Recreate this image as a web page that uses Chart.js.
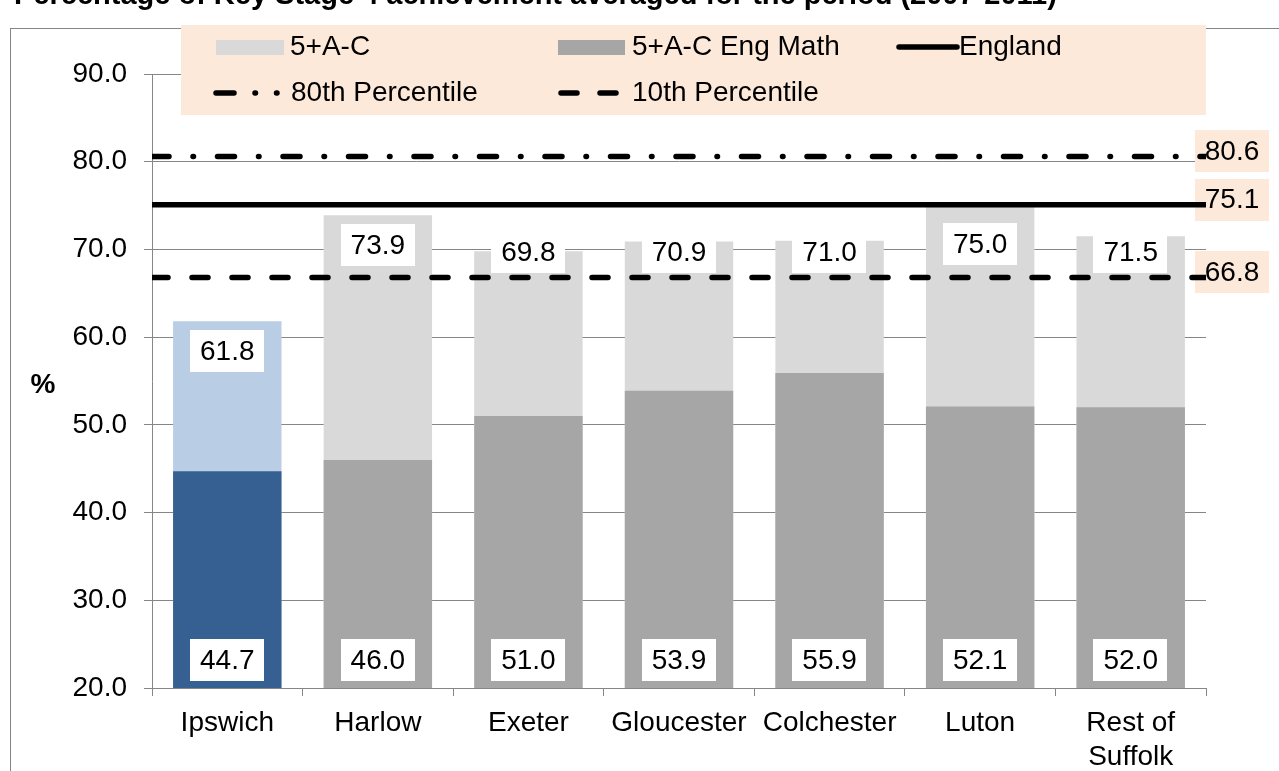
<!DOCTYPE html>
<html>
<head>
<meta charset="utf-8">
<title>Key Stage 4 achievement 2007-2011</title>
<script src="https://cdn.jsdelivr.net/npm/chart.js@4/dist/chart.umd.min.js"></script>
<style>
  html, body { margin: 0; padding: 0; background: #ffffff; overflow: hidden; }
  #wrap { position: relative; width: 1279px; height: 771px; }
</style>
</head>
<body>
<div id="wrap"><canvas id="chart" width="1279" height="771"></canvas></div>
<script>
// Areas compared
const categories = ['Ipswich', 'Harlow', 'Exeter', 'Gloucester', 'Colchester', 'Luton', ['Rest of', 'Suffolk']];
// 5+ GCSEs A*-C (%)
const fivePlusAC = [61.8, 73.9, 69.8, 70.9, 71.0, 75.0, 71.5];
// 5+ GCSEs A*-C including English and Maths (%)
const fivePlusACEngMath = [44.7, 46.0, 51.0, 53.9, 55.9, 52.1, 52.0];
// Reference levels (%)
const englandLevel = 75.1;
const percentile80 = 80.6;
const percentile10 = 66.8;
// Value axis
const yMin = 20, yMax = 90, yStep = 10;

const FONT = "'Liberation Sans', Arial, Helvetica, sans-serif";
const PEACH = '#FDE9D9';
const GRID = '#868686';
const focusArea = 'Ipswich';
const isFocus = categories.map(c => c === focusArea);
const lightColors = isFocus.map(f => f ? '#B9CDE5' : '#D9D9D9');
const darkColors = isFocus.map(f => f ? '#376092' : '#A6A6A6');

const DASH_DOT = [17, 24, 0.5, 24];
const DASHED = [16, 24];

function flatLine(v) { return [{ x: 0, y: v }, { x: 1, y: v }]; }

function labelBox(ctx, text, cx, cy, fill) {
  ctx.font = '28px ' + FONT;
  const w = ctx.measureText(text).width + 20;
  const h = 42;
  ctx.fillStyle = fill;
  ctx.fillRect(Math.round(cx - w / 2), Math.round(cy - h / 2), Math.round(w), h);
  ctx.fillStyle = '#000';
  ctx.textAlign = 'center';
  ctx.textBaseline = 'middle';
  ctx.fillText(text, cx, cy + 1);
}

// Frame, title and the value labels on the reference lines
const decorations = {
  id: 'decorations',
  beforeDraw(chart) {
    const ctx = chart.ctx;
    ctx.save();
    ctx.fillStyle = '#fff';
    ctx.fillRect(0, 0, chart.width, chart.height);
    ctx.strokeStyle = GRID;
    ctx.lineWidth = 1;
    ctx.strokeRect(10.5, 28.5, chart.width + 50, chart.height + 50);
    ctx.fillStyle = '#000';
    ctx.font = 'bold 29px ' + FONT;
    ctx.textAlign = 'left';
    ctx.textBaseline = 'alphabetic';
    ctx.fillText('Percentage of Key Stage 4 achievement averaged for the period (2007-2011)', 14, 4);
    ctx.font = 'bold 28px ' + FONT;
    ctx.textAlign = 'center';
    ctx.textBaseline = 'middle';
    ctx.fillText('%', 43, 385);
    ctx.restore();
  },
  beforeDatasetsDraw(chart) {
    const ctx = chart.ctx;
    const y = chart.scales.y;
    const cx = chart.chartArea.right + 26;
    ctx.save();
    [percentile80, englandLevel, percentile10].forEach(v => {
      labelBox(ctx, v.toFixed(1), cx, y.getPixelForValue(v) - 5, PEACH);
    });
    ctx.restore();
  },
  afterDatasetsDraw(chart) {
    const ctx = chart.ctx;
    const y = chart.scales.y;
    const totals = chart.getDatasetMeta(0);
    const subs = chart.getDatasetMeta(1);
    ctx.save();
    fivePlusAC.forEach((v, i) => {
      let c = v - 3.4;
      if (Math.abs(c - percentile10) < 2.6) c = Math.max(c, percentile10 + 2.9);
      c = Math.min(c, englandLevel - 4.5);
      labelBox(ctx, v.toFixed(1), totals.data[i].x, y.getPixelForValue(c), '#fff');
    });
    fivePlusACEngMath.forEach((v, i) => {
      labelBox(ctx, v.toFixed(1), subs.data[i].x, chart.chartArea.bottom - 28, '#fff');
    });
    ctx.restore();
  },
  afterDraw(chart) {
    // legend panel
    const ctx = chart.ctx;
    ctx.save();
    ctx.fillStyle = PEACH;
    ctx.fillRect(181, 25, chart.chartArea.right - 181, 90);
    const r1 = 47, r2 = 93;
    ctx.fillStyle = '#D9D9D9';
    ctx.fillRect(216, r1 - 7, 68, 15);
    ctx.fillStyle = '#A6A6A6';
    ctx.fillRect(558, r1 - 7, 67, 15);
    ctx.strokeStyle = '#000';
    ctx.lineCap = 'round';
    ctx.lineWidth = 5.5;
    ctx.setLineDash([]);
    ctx.beginPath(); ctx.moveTo(899, r1); ctx.lineTo(957, r1); ctx.stroke();
    ctx.setLineDash([18, 21, 0.5, 21, 0.5, 30]);
    ctx.beginPath(); ctx.moveTo(216, r2); ctx.lineTo(280, r2); ctx.stroke();
    ctx.setLineDash([16, 23]);
    ctx.beginPath(); ctx.moveTo(561, r2); ctx.lineTo(620, r2); ctx.stroke();
    ctx.setLineDash([]);
    ctx.fillStyle = '#000';
    ctx.font = '28px ' + FONT;
    ctx.textAlign = 'left';
    ctx.textBaseline = 'middle';
    ctx.fillText('5+A-C', 290, r1);
    ctx.fillText('5+A-C Eng Math', 632, r1);
    ctx.fillText('England', 959, r1);
    ctx.fillText('80th Percentile', 291, r2);
    ctx.fillText('10th Percentile', 632, r2);
    ctx.restore();
  }
};

new Chart(document.getElementById('chart'), {
  data: {
    labels: categories,
    datasets: [
      {
        type: 'bar', label: '5+A-C', data: fivePlusAC,
        backgroundColor: lightColors, grouped: false, order: 2,
        categoryPercentage: 1, barPercentage: 0.72, borderWidth: 0
      },
      {
        type: 'bar', label: '5+A-C Eng Math', data: fivePlusACEngMath,
        backgroundColor: darkColors, grouped: false, order: 1,
        categoryPercentage: 1, barPercentage: 0.72, borderWidth: 0
      },
      {
        type: 'line', label: 'England', data: flatLine(englandLevel), xAxisID: 'xl',
        borderColor: '#000', borderWidth: 5.5, borderCapStyle: 'butt',
        pointRadius: 0, order: 0
      },
      {
        type: 'line', label: '80th Percentile', data: flatLine(percentile80), xAxisID: 'xl',
        borderColor: '#000', borderWidth: 5.5, borderDash: DASH_DOT, borderCapStyle: 'round',
        pointRadius: 0, order: 0
      },
      {
        type: 'line', label: '10th Percentile', data: flatLine(percentile10), xAxisID: 'xl',
        borderColor: '#000', borderWidth: 5.5, borderDash: DASHED, borderCapStyle: 'round',
        pointRadius: 0, order: 0
      }
    ]
  },
  options: {
    responsive: false,
    animation: false,
    devicePixelRatio: 1,
    layout: { padding: { left: 10, top: 74, right: 73, bottom: 0 } },
    plugins: { legend: { display: false }, tooltip: { enabled: false }, title: { display: false } },
    scales: {
      x: {
        type: 'category',
        offset: true,
        grid: { offset: true, drawOnChartArea: false, drawTicks: true, tickLength: 8, color: GRID },
        border: { color: GRID, width: 1 },
        ticks: { color: '#000', font: { family: FONT, size: 28, lineHeight: 1.22 }, padding: 10, maxRotation: 0, autoSkip: false },
        afterFit(scale) { scale.height = 83; }
      },
      xl: { type: 'linear', display: false, min: 0, max: 1 },
      y: {
        min: yMin, max: yMax,
        grid: { color: GRID, tickLength: 8, lineWidth: 1 },
        border: { color: GRID, width: 1 },
        ticks: {
          stepSize: yStep, color: '#000', padding: 17,
          font: { family: FONT, size: 28 },
          callback: v => Number(v).toFixed(1)
        },
        afterFit(scale) { scale.width = 142; }
      }
    }
  },
  plugins: [decorations]
});
</script>
</body>
</html>
